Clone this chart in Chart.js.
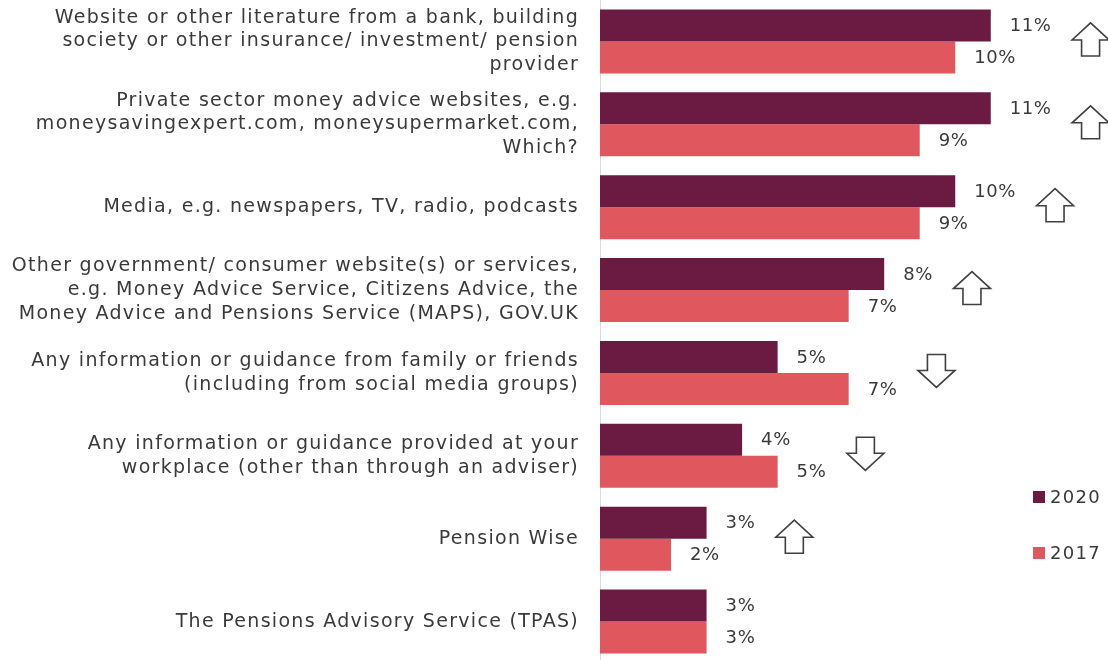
<!DOCTYPE html>
<html>
<head>
<meta charset="utf-8">
<script src="https://cdn.jsdelivr.net/npm/chart.js@4"></script>
<style>
  html, body { margin: 0; padding: 0; background: #fff; overflow: hidden; }
  #wrap { width: 1108px; height: 663px; }
</style>
</head>
<body>
<div id="wrap"><canvas id="chart" width="1108" height="663"></canvas></div>
<script>
const sources = [
  ['Website or other literature from a bank, building', 'society or other insurance/ investment/ pension', 'provider'],
  ['Private sector money advice websites, e.g.', 'moneysavingexpert.com, moneysupermarket.com,', 'Which?'],
  'Media, e.g. newspapers, TV, radio, podcasts',
  ['Other government/ consumer website(s) or services,', 'e.g. Money Advice Service, Citizens Advice, the', 'Money Advice and Pensions Service (MAPS), GOV.UK'],
  ['Any information or guidance from family or friends', '(including from social media groups)'],
  ['Any information or guidance provided at your', 'workplace (other than through an adviser)'],
  'Pension Wise',
  'The Pensions Advisory Service (TPAS)'
]
const years = ['2020', '2017']
const values2020 = [11, 11, 10, 8, 5, 4, 3, 3]
const values2017 = [10, 9, 9, 7, 7, 5, 2, 3]
// change since 2017: 'up', 'down' or null
const changes = ['up', 'up', 'up', 'up', 'down', 'down', 'up', null]

const colors = ['#6b1a42', '#e0585d']
const textColor = '#3a3a3a'
const font = 'DejaVu Sans'

function drawArrow(ctx, cx, cy, dir) {
  let w = 37, h = 33, shaft = 18, head = 17
  ctx.save()
  ctx.translate(cx, cy)
  if (dir === 'down') ctx.scale(1, -1)
  ctx.beginPath()
  ctx.moveTo(0, -h / 2)
  ctx.lineTo(w / 2, -h / 2 + head)
  ctx.lineTo(shaft / 2, -h / 2 + head)
  ctx.lineTo(shaft / 2, h / 2)
  ctx.lineTo(-shaft / 2, h / 2)
  ctx.lineTo(-shaft / 2, -h / 2 + head)
  ctx.lineTo(-w / 2, -h / 2 + head)
  ctx.closePath()
  ctx.fillStyle = '#fff'
  ctx.fill()
  ctx.lineWidth = 1.6
  ctx.strokeStyle = '#404040'
  ctx.stroke()
  ctx.restore()
}

const extras = {
  id: 'extras',
  beforeDraw(chart) {
    // wider tracking for the category labels
    chart.ctx.letterSpacing = '1.3px'
  },
  afterDatasetsDraw(chart) {
    let ctx = chart.ctx
    ctx.save()
    ctx.letterSpacing = '0.6px'
    ctx.font = `18px "${font}"`
    ctx.fillStyle = textColor
    ctx.textBaseline = 'middle'
    ctx.textAlign = 'left'
    // value labels at the end of every bar, remember where each row's text ends
    let rowEnd = []
    chart.data.datasets.forEach((ds, i) => {
      chart.getDatasetMeta(i).data.forEach((bar, j) => {
        let txt = ds.data[j] + '%'
        let x = bar.x + 19
        ctx.fillText(txt, x, bar.y + 1)
        rowEnd[j] = Math.max(rowEnd[j] || 0, x + ctx.measureText(txt).width)
      })
    })
    // change arrows just after the labels
    let ys = chart.scales.y
    changes.forEach((dir, j) => {
      if (!dir) return
      drawArrow(ctx, rowEnd[j] + 21 + 18, ys.getPixelForValue(j) - 2, dir)
    })
    // legend
    ctx.letterSpacing = '1.3px'
    chart.data.datasets.forEach((ds, i) => {
      let y = 497 + i * 56
      ctx.fillStyle = ds.backgroundColor
      ctx.fillRect(1033, y - 6, 12, 12)
      ctx.fillStyle = textColor
      ctx.font = `18px "${font}"`
      ctx.fillText(ds.label, 1050, y + 1)
    })
    ctx.restore()
  }
}

new Chart(document.getElementById('chart'), {
  type: 'bar',
  data: {
    labels: sources,
    datasets: [
      { label: years[0], data: values2020, backgroundColor: colors[0] },
      { label: years[1], data: values2017, backgroundColor: colors[1] }
    ]
  },
  options: {
    indexAxis: 'y',
    responsive: false,
    animation: false,
    devicePixelRatio: 1,
    layout: { padding: 0 },
    datasets: { bar: { barPercentage: 1, categoryPercentage: 0.773 } },
    plugins: { legend: { display: false }, tooltip: { enabled: false } },
    scales: {
      x: { display: false, min: 0, max: 14.3 },
      y: {
        grid: { color: 'transparent', drawTicks: false },
        border: { display: true, color: '#d9d9d9', width: 1 },
        ticks: {
          color: textColor,
          padding: 21,
          font: { family: font, size: 19, lineHeight: 1.24 }
        },
        afterFit(scale) {
          scale.width = 600
          scale.paddingTop = 0
          scale.paddingBottom = 0
        }
      }
    }
  },
  plugins: [extras]
})
</script>
</body>
</html>
